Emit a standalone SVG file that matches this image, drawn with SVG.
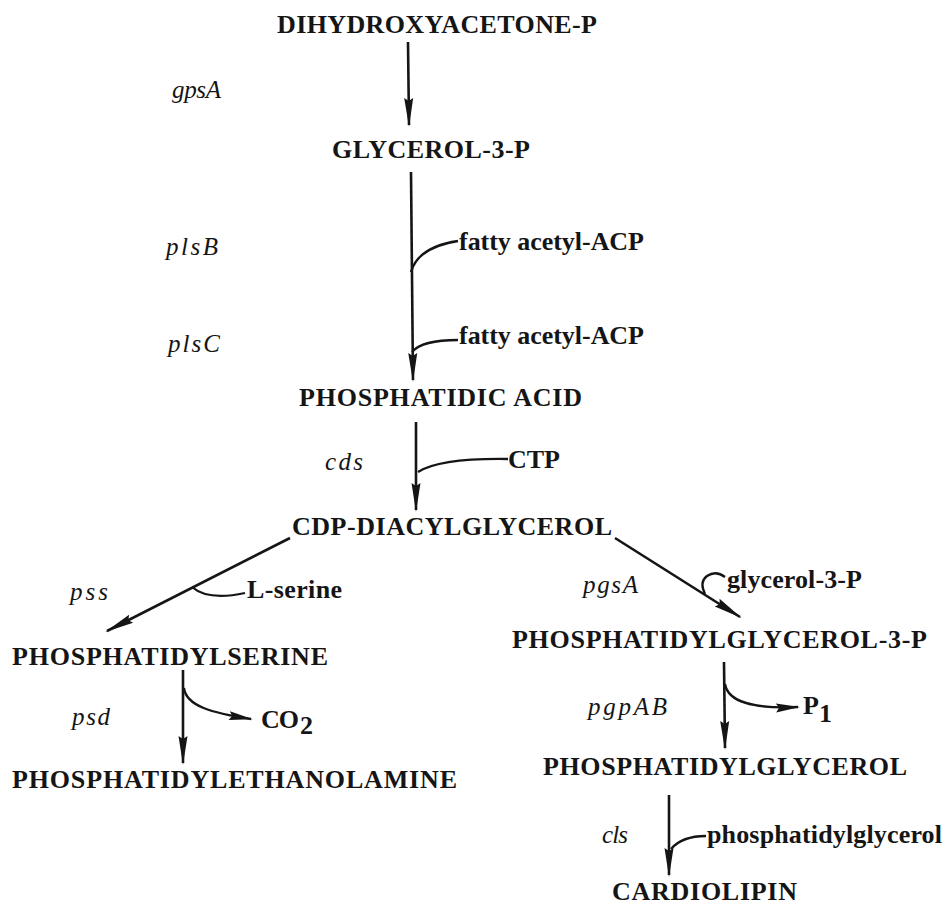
<svg xmlns="http://www.w3.org/2000/svg" width="952" height="909" viewBox="0 0 952 909">
  <defs>
    <style>
      .node { font-family: "Liberation Serif", "Times New Roman", serif; font-weight: bold; font-size: 26px; fill: #151515; }
      .sub { font-family: "Liberation Serif", "Times New Roman", serif; font-weight: bold; font-size: 26px; fill: #151515; }
      .gene { font-family: "Liberation Serif", "Times New Roman", serif; font-style: italic; font-size: 25px; fill: #151515; }
      .line { fill: none; stroke: #151515; stroke-width: 2.6; }
      .thin { fill: none; stroke: #151515; stroke-width: 2.3; }
    </style>
    <marker id="ah" viewBox="-28 -6 32 12" refX="0" refY="0" markerWidth="32" markerHeight="12" orient="auto" markerUnits="userSpaceOnUse">
      <path d="M2,0 L-27,-4.5 L-24,0 L-27,4.5 Z" fill="#151515"/>
    </marker>
    <marker id="ahs" viewBox="-24 -6 28 12" refX="0" refY="0" markerWidth="28" markerHeight="12" orient="auto" markerUnits="userSpaceOnUse">
      <path d="M2,0 L-22,-4.5 L-19,0 L-22,4.5 Z" fill="#151515"/>
    </marker>
  </defs>
  <rect width="952" height="909" fill="#ffffff"/>

  <g id="connectors">
    <path class="line" d="M408,42 L409,125" marker-end="url(#ah)"/>
    <path class="line" d="M411,172 L413,380" marker-end="url(#ah)"/>
    <path class="line" d="M416,422 L416,510" marker-end="url(#ah)"/>
    <path class="line" d="M290,538 L107,631" marker-end="url(#ah)"/>
    <path class="line" d="M615,538 L740,617" marker-end="url(#ah)"/>
    <path class="line" d="M183,670 L183,763" marker-end="url(#ah)"/>
    <path class="line" d="M724,662 L725,748" marker-end="url(#ah)"/>
    <path class="line" d="M669,795 L669,875" marker-end="url(#ah)"/>
    <path class="thin" d="M411,272 Q418,247 458,241"/>
    <path class="thin" d="M412,352 Q422,340 458,340"/>
    <path class="thin" d="M418,472 Q440,458 508,459"/>
    <path class="thin" d="M192,587 Q208,601 245,593"/>
    <path class="thin" d="M705,594 Q699,582 707,576 Q716,570 725,577"/>
    <path class="thin" d="M184,688 C186,706 212,713 251,719" marker-end="url(#ahs)"/>
    <path class="thin" d="M725,684 C728,702 752,709 798,707" marker-end="url(#ahs)"/>
    <path class="thin" d="M671,849 Q682,836 706,836"/>
  </g>

  <g id="dhap"><text class="node" x="277" y="33" textLength="320" lengthAdjust="spacing">DIHYDROXYACETONE-P</text></g>
  <g id="g3p"><text class="node" x="332" y="158" textLength="198" lengthAdjust="spacing">GLYCEROL-3-P</text></g>
  <g id="pa"><text class="node" x="299" y="406" textLength="283" lengthAdjust="spacing">PHOSPHATIDIC ACID</text></g>
  <g id="cdpdag"><text class="node" x="292" y="535" textLength="320" lengthAdjust="spacing">CDP-DIACYLGLYCEROL</text></g>
  <g id="ps"><text class="node" x="12" y="665" textLength="316" lengthAdjust="spacing">PHOSPHATIDYLSERINE</text></g>
  <g id="pe"><text class="node" x="12" y="788" textLength="445" lengthAdjust="spacing">PHOSPHATIDYLETHANOLAMINE</text></g>
  <g id="pgp"><text class="node" x="512" y="648" textLength="415" lengthAdjust="spacing">PHOSPHATIDYLGLYCEROL-3-P</text></g>
  <g id="pg"><text class="node" x="543" y="775" textLength="364" lengthAdjust="spacing">PHOSPHATIDYLGLYCEROL</text></g>
  <g id="cl"><text class="node" x="612" y="900" textLength="185" lengthAdjust="spacing">CARDIOLIPIN</text></g>

  <g id="cosubstrates">
    <text class="sub" x="459" y="250" textLength="185" lengthAdjust="spacing">fatty acetyl-ACP</text>
    <text class="sub" x="459" y="344" textLength="185" lengthAdjust="spacing">fatty acetyl-ACP</text>
    <text class="sub" x="508" y="468" textLength="52" lengthAdjust="spacing">CTP</text>
    <text class="sub" x="247" y="598" textLength="95" lengthAdjust="spacing">L-serine</text>
    <text class="sub" x="727" y="588" textLength="135" lengthAdjust="spacing">glycerol-3-P</text>
    <text class="sub" x="261" y="728" textLength="38" lengthAdjust="spacing">CO</text>
    <text class="sub" x="300" y="734" font-size="16">2</text>
    <text class="sub" x="803" y="714">P</text>
    <text class="sub" x="819" y="722" font-size="16">1</text>
    <text class="sub" x="707" y="843" textLength="235" lengthAdjust="spacing">phosphatidylglycerol</text>
  </g>

  <g id="genes">
    <text class="gene" x="172" y="98" textLength="49" lengthAdjust="spacing">gpsA</text>
    <text class="gene" x="166" y="255" textLength="52" lengthAdjust="spacing">plsB</text>
    <text class="gene" x="168" y="352" textLength="52" lengthAdjust="spacing">plsC</text>
    <text class="gene" x="325" y="470" textLength="38" lengthAdjust="spacing">cds</text>
    <text class="gene" x="70" y="600" textLength="38" lengthAdjust="spacing">pss</text>
    <text class="gene" x="72" y="725" textLength="38" lengthAdjust="spacing">psd</text>
    <text class="gene" x="583" y="593" textLength="55" lengthAdjust="spacing">pgsA</text>
    <text class="gene" x="588" y="715" textLength="79" lengthAdjust="spacing">pgpAB</text>
    <text class="gene" x="602" y="843" textLength="26" lengthAdjust="spacing">cls</text>
  </g>
</svg>
